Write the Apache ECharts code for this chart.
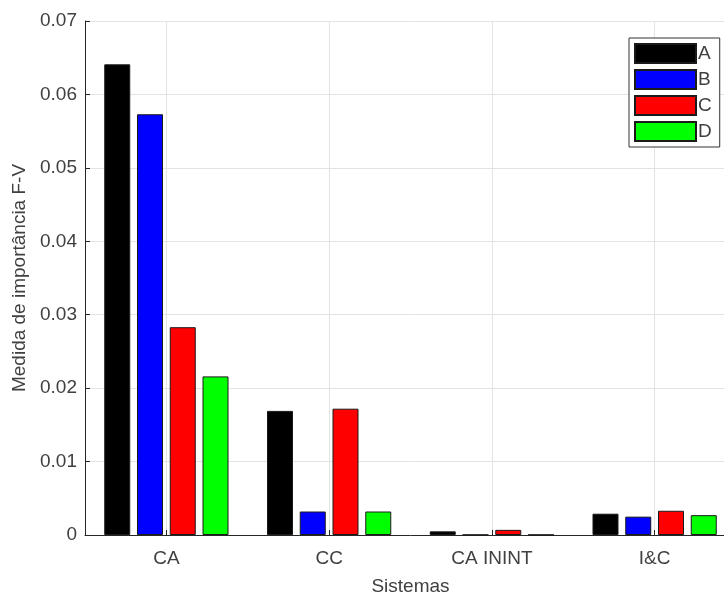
<!DOCTYPE html>
<html>
<head>
<meta charset="utf-8">
<script src="https://cdn.jsdelivr.net/npm/echarts@6/dist/echarts.min.js"></script>
<style>
  html, body { margin: 0; padding: 0; background: #fff; overflow: hidden; }
  /* the plot box runs slightly past the right edge of the window */
  #chart { width: 736px; height: 596px; }
</style>
</head>
<body>
<div id="chart"></div>
<script>
// Fussell-Vesely importance per system, for four cases
const categories = ['CA', 'CC', 'CA ININT', 'I&C'];
const seriesNames = ['A', 'B', 'C', 'D'];
const valuesA = [0.0641, 0.0169, 0.0005, 0.0029];
const valuesB = [0.0573, 0.0032, 0.00003, 0.0025];
const valuesC = [0.0283, 0.0172, 0.0007, 0.0033];
const valuesD = [0.0216, 0.0032, 0.00003, 0.0027];
const yTicks = [0, 0.01, 0.02, 0.03, 0.04, 0.05, 0.06, 0.07];

const seriesValues = [valuesA, valuesB, valuesC, valuesD];
const colors = ['#000000', '#0000ff', '#ff0000', '#00ff00'];
const textColor = '#404040';
const axisColor = '#262626';
const gridColor = '#e3e3e3';
const font = 'Liberation Sans, Arial, sans-serif';
const fs = 19;

const chart = echarts.init(document.getElementById('chart'), null, { renderer: 'canvas' });

chart.setOption({
  animation: false,
  backgroundColor: '#ffffff',
  textStyle: { fontFamily: font },
  grid: { left: 85, top: 21, right: 0, bottom: 61, containLabel: false, outerBoundsMode: 'none' },
  legend: {
    orient: 'vertical',
    left: 629,
    top: 38,
    padding: [5, 8, 5, 5],
    itemWidth: 61,
    itemHeight: 19,
    itemGap: 5,
    borderColor: '#333',
    borderWidth: 1,
    backgroundColor: '#fff',
    icon: 'rect',
    textStyle: { fontSize: fs, lineHeight: 19, color: textColor, fontFamily: font, padding: [0, 0, 0, -3] },
    data: seriesNames
  },
  xAxis: [
    {
      type: 'category',
      data: categories,
      boundaryGap: true,
      name: 'Sistemas',
      nameLocation: 'middle',
      nameGap: 42,
      nameTextStyle: { fontSize: fs, color: textColor, fontFamily: font },
      axisLine: { show: true, lineStyle: { color: axisColor, width: 1 } },
      axisTick: { show: true, inside: true, alignWithLabel: true, length: 5, lineStyle: { color: axisColor } },
      axisLabel: { fontSize: fs, color: textColor, margin: 14, fontFamily: font },
      splitLine: { show: false }
    },
    {
      // helper axis: vertical grid lines through the category centres
      type: 'value',
      min: 0,
      max: 8,
      interval: 1,
      position: 'bottom',
      axisLine: { show: false },
      axisTick: { show: false },
      axisLabel: { show: false },
      splitLine: { show: true, lineStyle: { color: ['rgba(0,0,0,0)', gridColor], width: 1 } }
    }
  ],
  yAxis: {
    type: 'value',
    min: yTicks[0],
    max: yTicks[yTicks.length - 1],
    interval: 0.01,
    name: 'Medida de importância F-V',
    nameLocation: 'middle',
    nameGap: 54,
    nameTextStyle: { fontSize: fs, color: textColor, fontFamily: font },
    axisLine: { show: true, lineStyle: { color: axisColor, width: 1 } },
    axisTick: { show: true, inside: true, length: 5, lineStyle: { color: axisColor } },
    axisLabel: {
      fontSize: fs,
      color: textColor,
      margin: 8,
      padding: [3, 0, 0, 0],
      fontFamily: font,
      formatter: v => (v === 0 ? '0' : v.toFixed(2))
    },
    splitLine: { show: true, lineStyle: { color: gridColor, width: 1 } }
  },
  series: seriesNames.map((name, i) => ({
    name: name,
    type: 'bar',
    xAxisIndex: 0,
    data: seriesValues[i],
    barWidth: 26,
    barGap: '26%',
    itemStyle: { color: colors[i], borderColor: '#1a1a1a', borderWidth: 1 }
  }))
});
</script>
</body>
</html>
